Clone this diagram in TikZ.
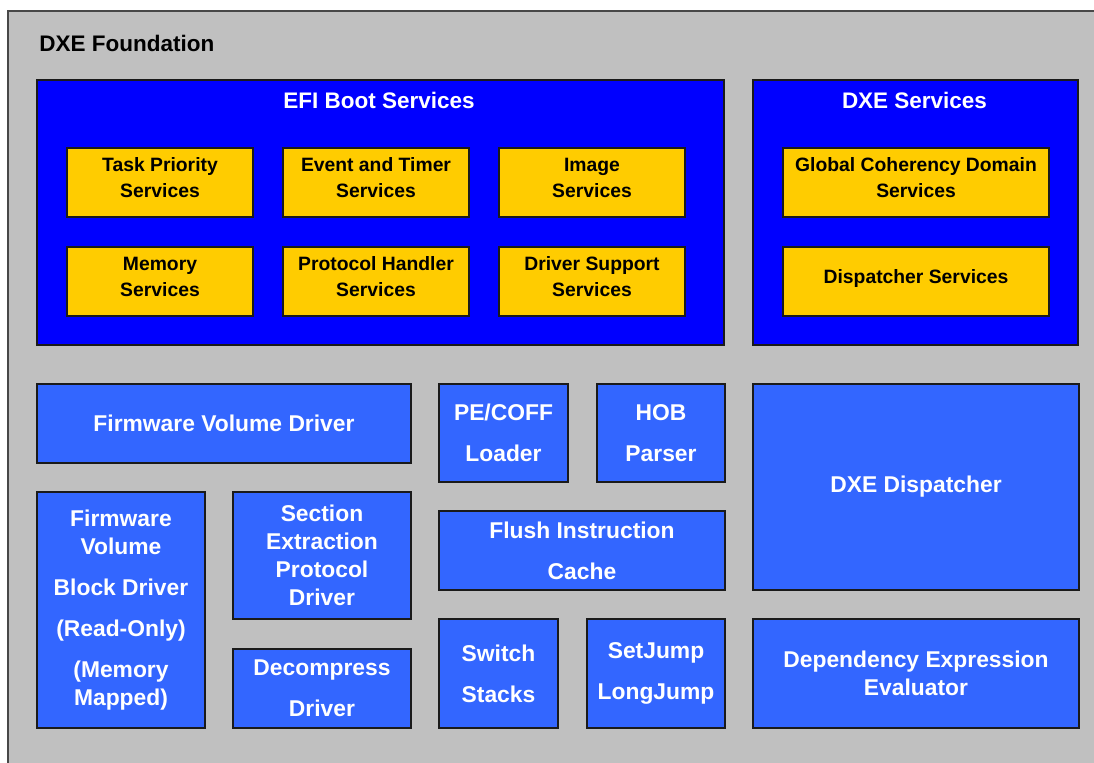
\documentclass[tikz,border=0pt]{standalone}
\usepackage{fontspec}
\setmainfont{Liberation Sans}
\definecolor{fdngray}{HTML}{C0C0C0}
\definecolor{efiblue}{HTML}{0000FF}
\definecolor{boxblue}{HTML}{3366FF}
\definecolor{svcyellow}{HTML}{FFCC00}
\definecolor{edgegray}{HTML}{1A1A1A}
\begin{document}
\begin{tikzpicture}[x=0.02cm,y=-0.02cm,
	wh/.style 2 args={minimum width=#1*0.02cm,minimum height=#2*0.02cm},
	area/.style={draw=edgegray,line width=0.8pt,fill=efiblue,inner sep=0pt},
	svc/.style={draw=edgegray,line width=0.8pt,fill=svcyellow,align=center,inner sep=1pt,
		text depth=0.2cm,font=\fontsize{11}{14.7}\selectfont\bfseries},
	comp/.style={draw=edgegray,line width=0.8pt,fill=boxblue,text=white,align=center,inner sep=1pt,
		font=\fontsize{13}{15.9}\selectfont\bfseries},
	title/.style={text=white,font=\fontsize{12.8}{15}\selectfont\bfseries}]
	\useasboundingbox (0,0) rectangle (1094,762);
	\fill[white] (0,0) rectangle (1094,762);
	%FOUNDATION
	\draw[fill=fdngray,draw=edgegray!80,line width=1.2pt] (8,11) rectangle (1110,780);
	\node[anchor=west,inner sep=0pt,font=\fontsize{12.8}{15}\selectfont\bfseries] (fdn) at (39,43) {DXE Foundation};
	%SERVICE TABLES
	\node[area,wh={687}{265}] (efi) at (380.5,212.5) {};
	\node[title] (efit) at (379,100) {EFI Boot Services};
	\node[area,wh={325}{265}] (dxes) at (915.5,212.5) {};
	\node[title] (dxest) at (914.5,100) {DXE Services};
	\node[svc,wh={186}{69}] (tps) at (160,182.5) {Task Priority\\Services};
	\node[svc,wh={186}{69}] (ets) at (376,182.5) {Event and Timer\\Services};
	\node[svc,wh={186}{69}] (ims) at (592,182.5) {Image\\Services};
	\node[svc,wh={186}{69}] (mem) at (160,281.5) {Memory\\Services};
	\node[svc,wh={186}{69}] (phs) at (376,281.5) {Protocol Handler\\Services};
	\node[svc,wh={186}{69}] (dss) at (592,281.5) {Driver Support\\Services};
	\node[svc,wh={266}{69}] (gcd) at (916,182.5) {Global Coherency Domain\\Services};
	\node[svc,wh={266}{69}] (dsp) at (916,281.5) {Dispatcher Services};
	%COMPONENTS
	\node[comp,wh={374}{79}] (fvd) at (224,423.5) {Firmware Volume Driver};
	\node[comp,wh={168}{236}] (fvb) at (121,610) {Firmware\\Volume\\[7.4pt]Block Driver\\[7.4pt](Read-Only)\\[7.4pt](Memory\\Mapped)};
	\node[comp,wh={178}{127}] (sep) at (322,555.5) {Section\\Extraction\\Protocol\\Driver};
	\node[comp,wh={178}{79}] (dec) at (322,688.5) {Decompress\\[7.4pt]Driver};
	\node[comp,wh={129}{98}] (pec) at (503.5,433) {PE/COFF\\[7.4pt]Loader};
	\node[comp,wh={128}{98}] (hob) at (661,433) {HOB\\[7.4pt]Parser};
	\node[comp,wh={286}{79}] (fic) at (582,550.5) {Flush Instruction\\[7.4pt]Cache};
	\node[comp,wh={119}{109}] (sws) at (498.5,673.5) {Switch\\[7.4pt]Stacks};
	\node[comp,wh={138}{109}] (sjl) at (656,673.5) {SetJump\\[7.4pt]LongJump};
	\node[comp,wh={326}{206}] (dis) at (916,487) {DXE Dispatcher};
	\node[comp,wh={326}{109}] (dee) at (916,673.5) {Dependency Expression\\Evaluator};
\end{tikzpicture}
\end{document}
